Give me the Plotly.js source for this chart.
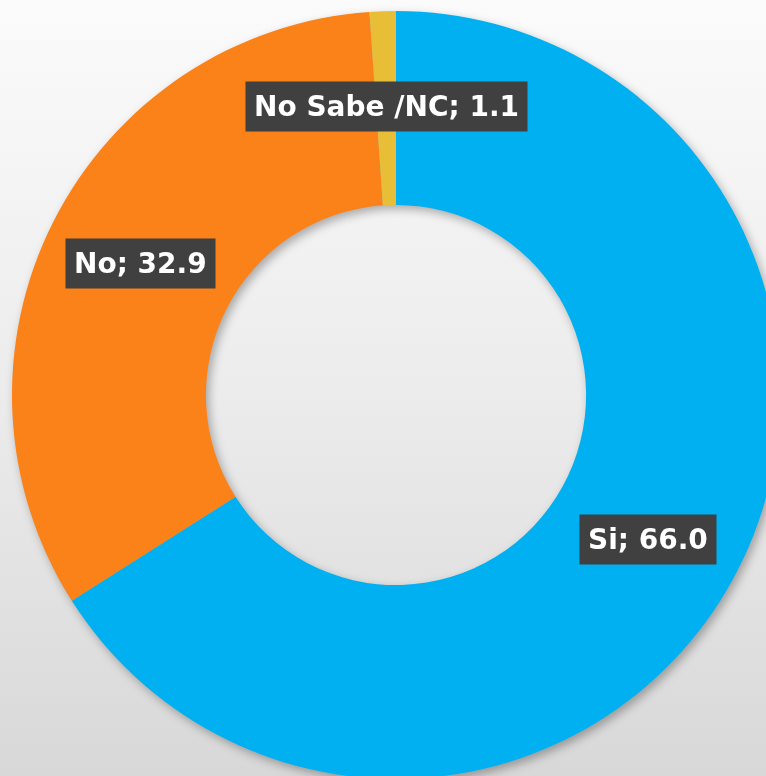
<!DOCTYPE html>
<html>
<head>
<meta charset="utf-8">
<script src="https://cdn.plot.ly/plotly-3.0.1.min.js"></script>
<style>
  html, body { margin: 0; padding: 0; width: 766px; height: 776px; overflow: hidden; }
  body { background: linear-gradient(to bottom, #fbfbfb 0%, #ececec 50%, #d8d8d8 100%); }
  #chart { width: 800px; height: 800px; filter: drop-shadow(3px 4px 5px rgba(0,0,0,0.3)); }
</style>
</head>
<body>
<div id="chart"></div>
<script>
const categories = ["Si", "No", "No Sabe /NC"];
const values = [66.0, 32.9, 1.1];
const colors = ["#00B0F0", "#FB8119", "#E8BE37"];
const labelPos = [[648, 539], [140, 263], [386, 106]];

const W = 800, H = 800;
const trace = {
  type: "pie",
  labels: categories,
  values: values,
  sort: false,
  direction: "clockwise",
  rotation: 0,
  hole: 0.495,
  marker: { colors: colors, line: { width: 0 } },
  textinfo: "none",
  hoverinfo: "none",
  showlegend: false,
  domain: { x: [12 / W, 780 / W], y: [1 - 779 / H, 1 - 11 / H] }
};

const annotations = categories.map((c, i) => ({
  xref: "paper", yref: "paper",
  x: labelPos[i][0] / W, y: 1 - labelPos[i][1] / H,
  xanchor: "center", yanchor: "middle",
  text: "<b>" + c + "; " + values[i].toFixed(1) + "</b>",
  showarrow: false,
  bgcolor: "#404040",
  borderpad: 8,
  font: { family: "'DejaVu Sans', sans-serif", size: 28, color: "#ffffff" }
}));

Plotly.newPlot("chart", [trace], {
  width: W, height: H,
  margin: { l: 0, r: 0, t: 0, b: 0 },
  paper_bgcolor: "rgba(0,0,0,0)",
  plot_bgcolor: "rgba(0,0,0,0)",
  annotations: annotations
}, { displayModeBar: false, staticPlot: true });
</script>
</body>
</html>
